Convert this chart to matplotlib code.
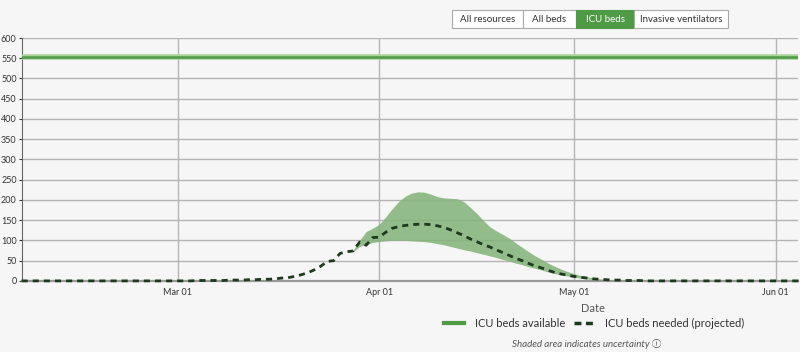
import numpy as np
import pandas as pd
import matplotlib
matplotlib.use("Agg")
import matplotlib.pyplot as plt
import matplotlib.dates as mdates
from matplotlib.patches import Rectangle

plt.rcParams['font.family'] = ['Lato', 'DejaVu Sans']

# ICU bed capacity (flat line)
capacity = 554
x_start = "2020-02-06"
x_end = "2020-06-04 12:00"

# projected ICU beds needed, daily from Mar 01
proj_start = "2020-03-01"
proj_vals = [0, 0, 0, 1, 1, 1, 1, 1, 2, 2, 2, 3, 3, 4, 4, 5, 7, 8, 11, 15,
             20, 27, 36, 48, 50, 68, 72, 74, 96, 88, 107,
             108, 120, 130, 134, 137, 139, 140, 140, 139, 136, 132, 126, 119, 112, 104,
             97, 90, 84, 77, 70, 63, 56, 50, 43, 37, 32, 26, 21, 17, 14,
             11, 9, 7, 5, 4, 3, 2, 2, 1, 1, 1, 0, 0, 0, 0]

# uncertainty band, daily from Mar 28
band_start = "2020-03-28"
band_upper = [76, 100, 122, 130, 140, 158, 178, 196, 209, 217, 220, 219, 214, 208,
              205, 204, 203, 196, 182, 167, 150, 134, 124, 115, 106, 94, 83, 72,
              62, 53, 44, 36, 29, 23, 18, 13, 10, 7, 5, 3, 2, 1]
band_lower = [72, 85, 90, 95, 97, 99, 100, 100, 100, 99, 98, 97, 95, 92,
              89, 85, 81, 77, 74, 70, 66, 62, 58, 53, 49, 44, 40, 35,
              31, 27, 22, 18, 15, 12, 9, 7, 5, 3, 2, 1, 1, 0]

buttons = ["All resources", "All beds", "ICU beds", "Invasive ventilators"]
active_button = "ICU beds"

bg = "#f6f6f6"
green = "#4f9a45"
fill_green = "#84b47a"
dark = "#1d3a1d"
grid_c = "#b4b4b4"

proj_dates = pd.date_range(proj_start, periods=len(proj_vals), freq="D")
band_dates = pd.date_range(band_start, periods=len(band_upper), freq="D")
# leading / trailing zeros for projection outside listed range
proj_x = [pd.Timestamp(x_start)] + list(proj_dates) + [pd.Timestamp(x_end)]
proj_y = [0] + proj_vals + [0]

fig = plt.figure(figsize=(8, 3.52), dpi=100, facecolor=bg)
ax = fig.add_axes([0.027, 0.202, 0.971, 0.690], facecolor=bg)

ax.set_xlim(pd.Timestamp(x_start), pd.Timestamp(x_end))
ax.set_ylim(0, 600)
ax.set_yticks(np.arange(0, 601, 50))
ax.xaxis.set_major_locator(mdates.MonthLocator(bymonth=[3, 4, 5, 6]))
ax.xaxis.set_major_formatter(mdates.DateFormatter("%b %d"))
ax.grid(True, color=grid_c, linewidth=1.0)
ax.set_axisbelow(True)
for s in ["top", "right"]:
    ax.spines[s].set_visible(False)
ax.spines["left"].set_color("#666666")
ax.spines["bottom"].set_color("#999999")
ax.spines["bottom"].set_linewidth(1.6)
ax.tick_params(axis="y", labelsize=6.5, colors="#333333", length=2.5, pad=1)
ax.tick_params(axis="x", labelsize=6.5, colors="#333333", length=0, pad=5)

ax.fill_between(band_dates, band_lower, band_upper, color=fill_green, alpha=0.88,
                linewidth=0, zorder=2)
ax.axhline(capacity, color="#a8d49c", linewidth=4, zorder=3)
ax.axhline(capacity, color=green, linewidth=1.8, zorder=3)
ax.plot(proj_x, proj_y, color=dark, linewidth=2, dashes=(2.2, 1.8), zorder=4,
        clip_on=False)

ax.set_xlabel("Date", fontsize=8, color="#555555", labelpad=3)
ax.xaxis.set_label_coords(0.735, -0.09)

# legend
fig.lines.append(plt.Line2D([0.555, 0.580], [0.082, 0.082], color=green, linewidth=3,
                            transform=fig.transFigure))
fig.text(0.594, 0.082, "ICU beds available", fontsize=8, color="#333333", va="center")
fig.lines.append(plt.Line2D([0.718, 0.745], [0.082, 0.082], color=dark, linewidth=2.5,
                            dashes=(2, 1.3), transform=fig.transFigure))
fig.text(0.756, 0.082, "ICU beds needed (projected)", fontsize=8, color="#333333",
         va="center")
fig.text(0.734, 0.022, "Shaded area indicates uncertainty \u24d8", fontsize=7,
         style="italic", color="#555555", ha="center", va="center",
         family=['Lato', 'Noto Sans CJK SC', 'DejaVu Sans'])

# buttons on top
widths = [71, 53, 58, 94]
x0 = 452
for name, w in zip(buttons, widths):
    active = name == active_button
    fig.patches.append(Rectangle((x0 / 800, 1 - 28 / 352), w / 800, 18 / 352,
                                 transform=fig.transFigure,
                                 facecolor=green if active else "white",
                                 edgecolor=green if active else "#aaaaaa",
                                 linewidth=0.8))
    fig.text((x0 + w / 2) / 800, 1 - 19 / 352, name, fontsize=7,
             color="white" if active else "#333333", ha="center", va="center")
    x0 += w

fig.savefig("out.png", dpi=100, facecolor=bg)
